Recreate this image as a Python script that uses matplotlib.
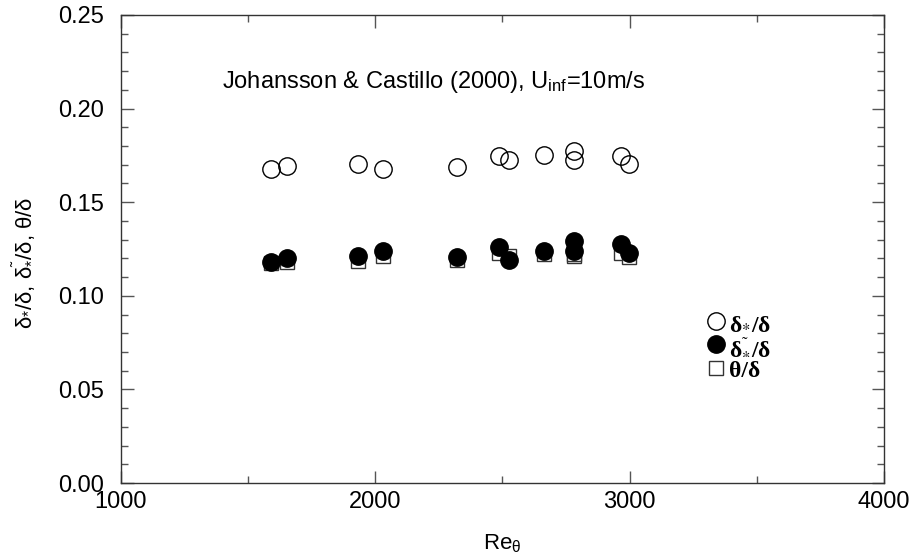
import matplotlib
matplotlib.use("Agg")
import matplotlib.pyplot as plt
from matplotlib.ticker import MultipleLocator, FormatStrFormatter

plt.rcParams['font.family'] = ['Liberation Sans', 'DejaVu Sans']
plt.rcParams['mathtext.fontset'] = 'custom'
plt.rcParams['mathtext.rm'] = 'Liberation Sans'
plt.rcParams['mathtext.it'] = 'Liberation Sans'
plt.rcParams['mathtext.bf'] = 'Liberation Sans:bold'

# Data (Re_theta, ratios)
re_open = [1589, 1652, 1931, 2029, 2320, 2485, 2525, 2662, 2780, 2780, 2965, 2996]
delta_star = [0.1676, 0.1695, 0.1702, 0.1676, 0.1686, 0.1747, 0.1724, 0.1752, 0.1774, 0.1725, 0.1747, 0.1706]

re_filled = [1589, 1652, 1931, 2029, 2320, 2485, 2525, 2662, 2780, 2780, 2965, 2996]
delta_tilde = [0.1182, 0.1200, 0.1213, 0.1239, 0.1206, 0.1262, 0.1191, 0.1241, 0.1295, 0.1239, 0.1275, 0.1230]

re_sq = [1589, 1652, 1931, 2029, 2320, 2485, 2525, 2662, 2780, 2780, 2965, 2996]
theta = [0.1175, 0.1180, 0.1185, 0.1215, 0.1190, 0.1230, 0.1215, 0.1225, 0.1215, 0.1225, 0.1228, 0.1207]

fig = plt.figure(figsize=(9.17, 5.6), dpi=100)
ax = fig.add_axes([121/917, 77/560, 763/917, 468/560])

ax.plot(re_sq, theta, linestyle='none', marker='s', markersize=10,
        markerfacecolor='white', markeredgecolor='#333333', markeredgewidth=1.0,
        label='θ/δ', zorder=2)
ax.plot(re_open, delta_star, linestyle='none', marker='o', markersize=12.5,
        markerfacecolor='none', markeredgecolor='black', markeredgewidth=1.0,
        label='δ$_{*}$/δ', zorder=3)
ax.plot(re_filled, delta_tilde, linestyle='none', marker='o', markersize=12.5,
        markerfacecolor='black', markeredgecolor='black', markeredgewidth=1.0,
        label='δ$^{˜}_{*}$/δ', zorder=4)

ax.set_xlim(1000, 4000)
ax.set_ylim(0.0, 0.25)
ax.xaxis.set_major_locator(MultipleLocator(1000))
ax.xaxis.set_minor_locator(MultipleLocator(500))
ax.yaxis.set_major_locator(MultipleLocator(0.05))
ax.yaxis.set_minor_locator(MultipleLocator(0.01))
ax.yaxis.set_major_formatter(FormatStrFormatter('%.2f'))
ax.tick_params(which='both', direction='in', top=True, right=True, labelsize=17,
               color='#555555')
ax.tick_params(which='major', length=9, width=1)
ax.tick_params(which='minor', length=5, width=1)
ax.tick_params(axis='x', pad=6)
ax.tick_params(axis='y', pad=12)
for s in ax.spines.values():
    s.set_linewidth(1.0)
    s.set_color('#333333')

ax.set_xlabel('Re$_{\\theta}$', fontsize=16)
ax.xaxis.set_label_coords(0.5, -0.105)
ax.set_ylabel('δ$_{*}$/δ, δ$^{˜}_{*}$/δ, θ/δ', fontsize=16)
ax.yaxis.set_label_coords(-0.112, 0.47)

ax.text(0.133, 0.844, 'Johansson & Castillo (2000), U$_{\\mathrm{inf}}$=10m/s',
        transform=ax.transAxes, fontsize=17, va='baseline', ha='left')

h, l = ax.get_legend_handles_labels()
order = [1, 2, 0]
leg = ax.legend([h[i] for i in order], [l[i] for i in order],
                loc='upper left', bbox_to_anchor=(0.752, 0.39), frameon=False,
                handlelength=0.8, handletextpad=0.15, borderpad=0,
                labelspacing=0.1,
                prop={'family': 'Liberation Serif', 'size': 17, 'weight': 'bold',
                      'math_fontfamily': 'stix'})

fig.savefig('out.png', dpi=100)
